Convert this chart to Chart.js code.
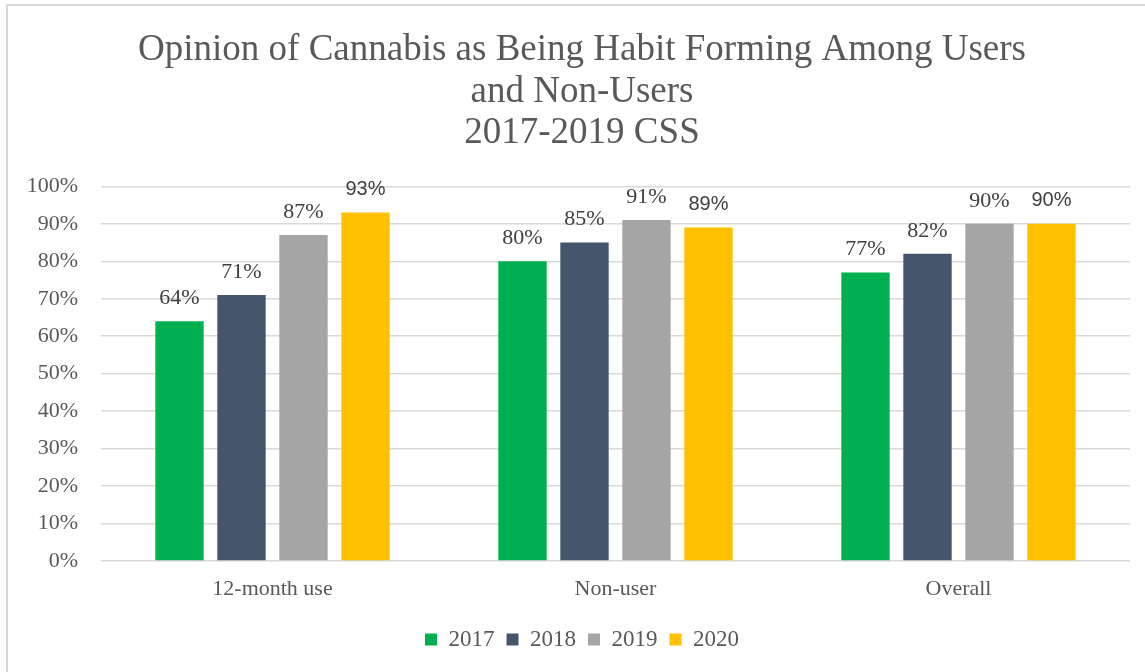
<!DOCTYPE html>
<html>
<head>
<meta charset="utf-8">
<script src="https://cdn.jsdelivr.net/npm/chart.js@4/dist/chart.umd.min.js"></script>
<style>
  html, body { margin: 0; padding: 0; background: #fff; overflow: hidden; }
  #frame {
    position: absolute; left: 6px; top: 4px; width: 1200px; height: 700px;
    border-left: 2px solid #d9d9d9; border-top: 2px solid #d9d9d9;
  }
  #box { position: absolute; left: 0; top: 0; width: 1145px; height: 672px; }
</style>
</head>
<body>
<div id="frame"></div>
<div id="box"><canvas id="habitChart" width="1145" height="672"></canvas></div>
<script>
const categories = ['12-month use', 'Non-user', 'Overall'];
const years = ['2017', '2018', '2019', '2020'];
const v2017 = [64, 80, 77];
const v2018 = [71, 85, 82];
const v2019 = [87, 91, 90];
const v2020 = [93, 89, 90];
const yTicks = [0, 10, 20, 30, 40, 50, 60, 70, 80, 90, 100];

const colors = ['#00B050', '#44546A', '#A5A5A5', '#FFC000'];
const serif = "'Liberation Serif', 'Times New Roman', serif";
const sans = "'Liberation Sans', Arial, sans-serif";

// value labels above each bar (2020 series is set in a sans face)
const barLabels = {
  id: 'barLabels',
  afterDatasetsDraw(chart) {
    const ctx = chart.ctx;
    ctx.save();
    ctx.fillStyle = '#404040';
    ctx.textAlign = 'center';
    ctx.textBaseline = 'middle';
    chart.data.datasets.forEach((ds, i) => {
      ctx.font = i === 3 ? '20px ' + sans : '22px ' + serif;
      chart.getDatasetMeta(i).data.forEach((bar, j) => {
        ctx.fillText(ds.data[j] + '%', bar.x, bar.y - 23);
      });
    });
    ctx.restore();
  }
};

// y labels are clipped to the axis box, so stretch it to the canvas edge
const widenAxis = {
  id: 'widenAxis',
  afterLayout(chart) { chart.scales.y.left = 0; }
};

const seriesValues = [v2017, v2018, v2019, v2020];

new Chart(document.getElementById('habitChart'), {
  type: 'bar',
  data: {
    labels: categories,
    datasets: years.map((yr, i) => ({
      label: yr,
      data: seriesValues[i],
      backgroundColor: colors[i],
      categoryPercentage: 0.723,
      barPercentage: 0.78
    }))
  },
  options: {
    responsive: false,
    animation: false,
    layout: { padding: { left: 34, right: 15, top: 0, bottom: 11 } },
    scales: {
      x: {
        grid: { display: false, drawTicks: false },
        border: { display: false },
        ticks: { color: '#595959', font: { family: serif, size: 22 }, padding: 15 },
        afterFit(scale) { scale.height = 55; }
      },
      y: {
        min: 0,
        max: 100,
        afterBuildTicks(scale) { scale.ticks = yTicks.map(v => ({ value: v })); },
        grid: { color: '#d9d9d9', lineWidth: 1.5, drawTicks: false },
        border: { display: false },
        ticks: {
          color: '#595959',
          font: { family: serif, size: 22 },
          padding: 23,
          callback: v => v + '%'
        },
        afterFit(scale) { scale.width = 67; }
      }
    },
    plugins: {
      title: {
        display: true,
        text: ['Opinion of Cannabis as Being Habit Forming Among Users', 'and Non-Users', '2017-2019 CSS'],
        color: '#595959',
        font: { family: serif, size: 37, weight: 'normal', lineHeight: 1.12 },
        padding: { top: 30, bottom: 32 }
      },
      legend: {
        position: 'bottom',
        labels: {
          color: '#595959',
          font: { family: serif, size: 23 },
          boxWidth: 12,
          boxHeight: 12,
          padding: 12
        }
      },
      tooltip: { enabled: false }
    }
  },
  plugins: [barLabels, widenAxis]
});
</script>
</body>
</html>
